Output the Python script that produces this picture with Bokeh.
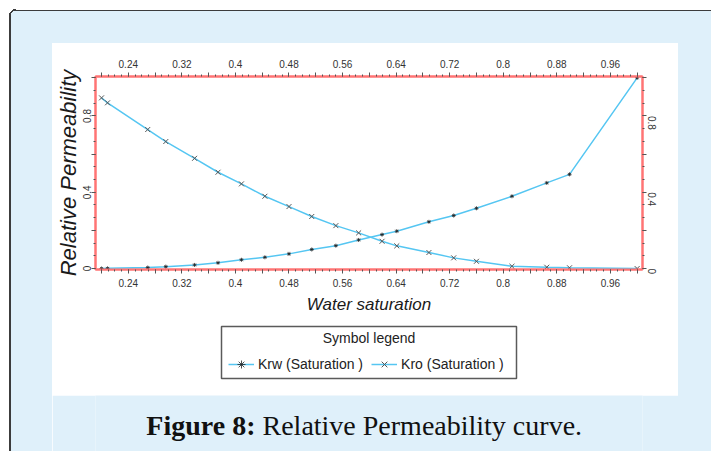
import math
from bokeh.plotting import figure
from bokeh.layouts import column, row
from bokeh.models import Range1d, LinearAxis, FixedTicker, Legend, LegendItem, Spacer
from bokeh.core.properties import value
from bokeh.embed import file_html
from bokeh.resources import INLINE

# ---------------- data ----------------
sw = [0.200, 0.209, 0.269, 0.296, 0.339, 0.374, 0.409, 0.444, 0.480, 0.514, 0.550,
      0.584, 0.619, 0.641, 0.689, 0.726, 0.760, 0.813, 0.865, 0.899, 1.000]
krw = [0.000, 0.001, 0.005, 0.010, 0.019, 0.030, 0.046, 0.059, 0.077, 0.100, 0.120,
       0.150, 0.178, 0.196, 0.245, 0.278, 0.316, 0.379, 0.449, 0.494, 1.000]
kro = [0.895, 0.869, 0.729, 0.666, 0.578, 0.505, 0.444, 0.379, 0.325, 0.273, 0.225,
       0.187, 0.143, 0.119, 0.084, 0.056, 0.038, 0.012, 0.007, 0.004, 0.000]

x_major = [0.20, 0.24, 0.28, 0.32, 0.36, 0.40, 0.44, 0.48, 0.52, 0.56, 0.60,
           0.64, 0.68, 0.72, 0.76, 0.80, 0.84, 0.88, 0.92, 0.96, 1.00]
x_labels = ["", "0.24", "", "0.32", "", "0.4", "", "0.48", "", "0.56", "",
            "0.64", "", "0.72", "", "0.8", "", "0.88", "", "0.96", ""]
y_major = [0.0, 0.2, 0.4, 0.6, 0.8, 1.0]
y_labels = ["0", "", "0.4", "", "0.8", ""]

series_names = ["Krw (Saturation )", "Kro (Saturation )"]
legend_title = "Symbol legend"
x_title = "Water saturation"
y_title = "Relative Permeability"
caption_bold = "Figure 8:"
caption_rest = "Relative Permeability curve."

# ---------------- style ----------------
RED = "#ff7474"
BLUE = "#55c6f2"
BG = "#dff0fa"
DARK = "#3c3c3c"
SANS = "Liberation Sans"
SERIF = "Liberation Serif"

x_minor = [round(0.19 + i * 0.01, 2) for i in range(83)]
y_minor = [round(i * 0.2 / 3, 4) for i in range(16)]

TOP_EDGE = f"linear-gradient(to bottom, #ffffff 0px, #ffffff 9.6px, {DARK} 9.6px, {DARK} 11.4px, {BG} 11.4px)"
LEFT_EDGE = (f"radial-gradient(circle at 16px 16px, rgba(0,0,0,0) 0px, rgba(0,0,0,0) 5.2px, {DARK} 5.2px, {DARK} 7px, #ffffff 7px) 0px 0px / 16px 16px no-repeat, "
             f"linear-gradient(to bottom, #ffffff 0px, #ffffff 9.6px, {DARK} 9.6px, {DARK} 11.4px, rgba(0,0,0,0) 11.4px) 16px 0px / 100% 100% no-repeat, "
             f"linear-gradient(to right, #ffffff 0px, #ffffff 9.1px, {DARK} 9.1px, {DARK} 10.9px, {BG} 10.9px) 0px 16px / 100% 100% no-repeat, "
             f"{BG}")

# ---------------- chart ----------------
CW, CH = 626, 277
p = figure(width=CW, height=CH, output_backend="svg", toolbar_location=None,
           x_range=Range1d(0.191, 1.008), y_range=Range1d(-0.005, 1.007),
           x_axis_location=None, y_axis_location=None,
           min_border_left=43, min_border_top=33, min_border_right=36,
           min_border_bottom=51)
p.border_fill_color = "white"
p.background_fill_color = "white"
p.outline_line_color = RED
p.outline_line_width = 2
p.xgrid.visible = False
p.ygrid.visible = False


def make_axis(ticks, minor, labels, standoff):
    ax = LinearAxis(ticker=FixedTicker(ticks=ticks, minor_ticks=minor))
    ax.major_label_overrides = dict(zip(ticks, labels))
    ax.axis_line_color = RED
    ax.axis_line_width = 2
    ax.major_tick_line_color = "#555"
    ax.minor_tick_line_color = "#555"
    ax.major_tick_out = 4
    ax.major_tick_in = 0
    ax.minor_tick_out = 2
    ax.minor_tick_in = 0
    ax.major_label_text_font = SANS
    ax.major_label_text_font_size = "10px"
    ax.major_label_text_color = "#333"
    ax.major_label_standoff = standoff
    return ax


bottom = make_axis(x_major, x_minor, x_labels, 5)
bottom.axis_label = x_title
bottom.axis_label_text_font = SANS
bottom.axis_label_text_font_style = "italic"
bottom.axis_label_text_font_size = "17px"
bottom.axis_label_text_color = "#1a1a1a"
bottom.axis_label_standoff = 5
top = make_axis(x_major, x_minor, x_labels, 5)
left = make_axis(y_major, y_minor, y_labels, 0)
left.major_label_orientation = "vertical"
left.axis_label = y_title
left.axis_label_text_font = SANS
left.axis_label_text_font_style = "italic"
left.axis_label_text_font_size = "22px"
left.axis_label_text_color = "#1a1a1a"
left.axis_label_standoff = 0
right = make_axis(y_major, y_minor, y_labels, 5)
right.major_label_orientation = -math.pi / 2

p.add_layout(bottom, "below")
p.add_layout(top, "above")
p.add_layout(left, "left")
p.add_layout(right, "right")

p.line(sw, krw, line_color=BLUE, line_width=1.5)
p.scatter(sw, krw, marker="asterisk", size=4, line_color="#222", line_width=0.8)
p.line(sw, kro, line_color=BLUE, line_width=1.5)
p.scatter(sw, kro, marker="x", size=7, line_color="#555", line_width=1)

# ---------------- legend panel (frame aligned with the chart frame) ----------------
LW, LH = 626, 75
lg = figure(width=LW, height=LH, output_backend="svg", toolbar_location=None,
            x_range=Range1d(95, 642), y_range=Range1d(320 + LH, 320),
            x_axis_location=None, y_axis_location=None, min_border=0,
            outline_line_color=None, background_fill_color="white",
            border_fill_color="white")
lg.xgrid.visible = False
lg.ygrid.visible = False
lg.quad(left=[221], right=[516], top=[326], bottom=[378], fill_color="white",
        line_color="#5a5a5a", line_width=1.5)
lg.text(x=[368.5], y=[337], text=[legend_title], text_align="center",
        text_baseline="middle", text_font=value(SANS), text_font_size="14px",
        text_color="#222")
# sample renderers for the legend keys (their single point lies off-canvas)
off = [-1000]
s_krw_l = lg.line(x=off, y=off, line_color=BLUE, line_width=1.5)
s_krw_m = lg.scatter(x=off, y=off, marker="asterisk", size=4, line_color="#222", line_width=0.8)
s_kro_l = lg.line(x=off, y=off, line_color=BLUE, line_width=1.5)
s_kro_m = lg.scatter(x=off, y=off, marker="x", size=7, line_color="#555", line_width=1)
legend = Legend(items=[LegendItem(label=series_names[0], renderers=[s_krw_l, s_krw_m]),
                       LegendItem(label=series_names[1], renderers=[s_kro_l, s_kro_m])],
                orientation="horizontal", location=(133, 21))
legend.border_line_alpha = 0
legend.background_fill_alpha = 0
legend.padding = 0
legend.margin = 0
legend.spacing = 8
legend.glyph_width = 26
legend.glyph_height = 20
legend.label_height = 20
legend.label_standoff = 4
legend.label_text_font = SANS
legend.label_text_font_size = "14px"
legend.label_text_color = "#222"
lg.add_layout(legend)

# ---------------- caption panel (frame aligned with the chart frame) ----------------
cap = figure(width=626, height=56, output_backend="svg", toolbar_location=None,
             x_range=Range1d(95, 642), y_range=Range1d(451, 395),
             x_axis_location=None, y_axis_location=None, min_border=0,
             outline_line_color=None, background_fill_color=BG,
             border_fill_color=BG)
cap.xgrid.visible = False
cap.ygrid.visible = False
cap.text(x=[255], y=[425], text=[caption_bold], text_align="right",
         text_baseline="middle", text_font=value(SERIF),
         text_font_style="bold", text_font_size="28px", text_color="#111")
cap.text(x=[262], y=[425], text=[caption_rest], text_align="left",
         text_baseline="middle", text_font=value(SERIF),
         text_font_size="28px", text_color="#111")

# ---------------- page chrome ----------------
left_strip = Spacer(width=52, height=451, styles={"background": LEFT_EDGE})
top_strip = Spacer(width=626, height=43, styles={"background": TOP_EDGE})
right_strip = Spacer(width=33, height=451, styles={"background": TOP_EDGE})

layout = row(left_strip,
             column(top_strip, p, lg, cap, spacing=0),
             right_strip, spacing=0)

open("out.html", "w").write(file_html(layout, INLINE))
